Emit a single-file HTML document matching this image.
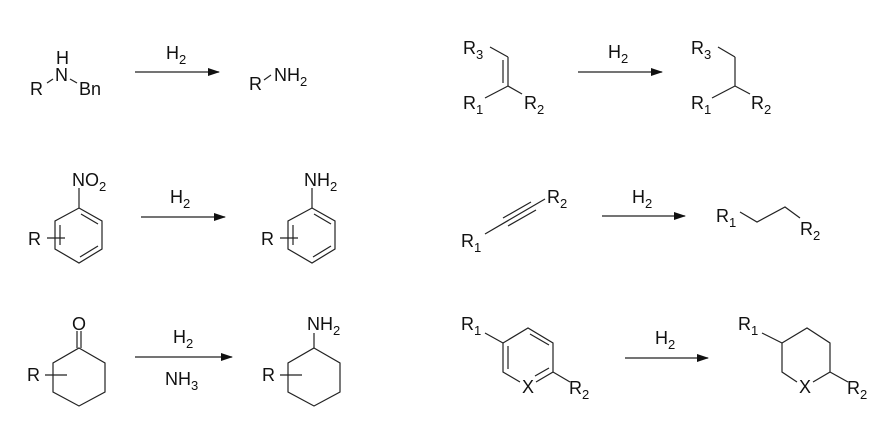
<!DOCTYPE html>
<html><head><meta charset="utf-8"><style>
html,body{margin:0;padding:0;background:#fff;}
svg{display:block;}
text{font-family:"Liberation Sans",Arial,sans-serif;font-size:18px;fill:#111;}
.s{font-size:13px;}
</style></head><body>
<svg width="893" height="438" viewBox="0 0 893 438">
<defs><marker id="a" markerWidth="12" markerHeight="8" refX="11" refY="4" orient="auto" markerUnits="userSpaceOnUse"><path d="M0,0 L12,4 L0,8 Z" fill="#111"/></marker></defs>
<g stroke="#222" stroke-width="1.2" fill="none">
<line x1="135" y1="72" x2="219" y2="72" marker-end="url(#a)"/>
<line x1="578" y1="72" x2="662" y2="72" marker-end="url(#a)"/>
<line x1="141" y1="217" x2="225" y2="217" marker-end="url(#a)"/>
<line x1="602" y1="216" x2="685" y2="216" marker-end="url(#a)"/>
<line x1="135" y1="357" x2="232" y2="357" marker-end="url(#a)"/>
<line x1="625" y1="358" x2="708" y2="358" marker-end="url(#a)"/>
<line x1="47" y1="83" x2="53" y2="79"/>
<line x1="70" y1="79" x2="77" y2="83"/>
<line x1="264" y1="80" x2="271" y2="75"/>
<line x1="490" y1="47" x2="508" y2="57"/>
<line x1="508" y1="57" x2="508" y2="86"/>
<line x1="503" y1="60" x2="503" y2="83"/>
<line x1="508" y1="86" x2="485" y2="98"/>
<line x1="508" y1="86" x2="522" y2="94"/>
<line x1="718" y1="47" x2="735" y2="57"/>
<line x1="735" y1="57" x2="735" y2="86"/>
<line x1="735" y1="86" x2="712" y2="98"/>
<line x1="735" y1="86" x2="750" y2="94"/>
<line x1="485" y1="234" x2="545" y2="199"/>
<line x1="503" y1="218" x2="531" y2="202"/>
<line x1="508" y1="226" x2="536" y2="210"/>
<polyline points="740,212 757,222 785,207 800,218"/>
<polygon points="79,208 102,221 102,249 79,263 55,249 55,221"/>
<line x1="79" y1="208" x2="79" y2="188"/>
<line x1="81" y1="214" x2="98" y2="224"/>
<line x1="98" y1="246" x2="80" y2="257"/>
<line x1="60" y1="225" x2="60" y2="245"/>
<line x1="47" y1="238" x2="65" y2="238"/>
<polygon points="312,208 335,221 335,249 312,263 288,249 288,221"/>
<line x1="312" y1="208" x2="312" y2="188"/>
<line x1="314" y1="214" x2="331" y2="224"/>
<line x1="331" y1="246" x2="313" y2="257"/>
<line x1="293" y1="225" x2="293" y2="245"/>
<line x1="280" y1="238" x2="298" y2="238"/>
<polygon points="79,348 105,363 105,392 79,406 53,392 53,363"/>
<line x1="77" y1="331" x2="77" y2="348"/>
<line x1="81" y1="331" x2="81" y2="348"/>
<line x1="45" y1="375" x2="67" y2="375"/>
<polygon points="314,348 340,363 340,392 314,406 288,392 288,363"/>
<line x1="314" y1="333" x2="314" y2="348"/>
<line x1="280" y1="375" x2="302" y2="375"/>
<polyline points="503,343 528,328 553,343 553,372 536,382"/>
<polyline points="520,382 503,372 503,343"/>
<line x1="530" y1="334" x2="549" y2="345"/>
<line x1="508" y1="346" x2="508" y2="369"/>
<line x1="535" y1="376" x2="549" y2="368"/>
<line x1="485" y1="333" x2="503" y2="343"/>
<line x1="553" y1="372" x2="570" y2="382"/>
<polyline points="782,343 807,328 830,343 830,372 813,382"/>
<polyline points="797,382 782,372 782,343"/>
<line x1="762" y1="333" x2="782" y2="343"/>
<line x1="830" y1="372" x2="848" y2="382"/>
</g>
<text x="56" y="64">H</text>
<text x="55" y="81">N</text>
<text x="30" y="95">R</text>
<text x="79" y="95">Bn</text>
<text x="166" y="59">H<tspan class="s" dy="5">2</tspan></text>
<text x="249" y="90">R</text>
<text x="274" y="81">NH<tspan class="s" dy="5">2</tspan></text>

<text x="463" y="54">R<tspan class="s" dy="5">3</tspan></text>
<text x="463" y="109">R<tspan class="s" dy="5">1</tspan></text>
<text x="524" y="109">R<tspan class="s" dy="5">2</tspan></text>
<text x="608" y="58">H<tspan class="s" dy="5">2</tspan></text>
<text x="691" y="54">R<tspan class="s" dy="5">3</tspan></text>
<text x="691" y="109">R<tspan class="s" dy="5">1</tspan></text>
<text x="751" y="109">R<tspan class="s" dy="5">2</tspan></text>

<text x="72" y="186">NO<tspan class="s" dy="5">2</tspan></text>
<text x="28" y="245">R</text>
<text x="170" y="203">H<tspan class="s" dy="5">2</tspan></text>
<text x="304" y="186">NH<tspan class="s" dy="5">2</tspan></text>
<text x="261" y="245">R</text>

<text x="547" y="203">R<tspan class="s" dy="5">2</tspan></text>
<text x="461" y="247">R<tspan class="s" dy="5">1</tspan></text>
<text x="632" y="203">H<tspan class="s" dy="5">2</tspan></text>
<text x="716" y="222">R<tspan class="s" dy="5">1</tspan></text>
<text x="800" y="235">R<tspan class="s" dy="5">2</tspan></text>

<text x="72" y="330">O</text>
<text x="27" y="381">R</text>
<text x="173" y="343">H<tspan class="s" dy="5">2</tspan></text>
<text x="165" y="385">NH<tspan class="s" dy="5">3</tspan></text>
<text x="307" y="330">NH<tspan class="s" dy="5">2</tspan></text>
<text x="262" y="381">R</text>

<text x="461" y="330">R<tspan class="s" dy="5">1</tspan></text>
<text x="522" y="393">X</text>
<text x="569" y="394">R<tspan class="s" dy="5">2</tspan></text>
<text x="655" y="344">H<tspan class="s" dy="5">2</tspan></text>
<text x="738" y="330">R<tspan class="s" dy="5">1</tspan></text>
<text x="799" y="393">X</text>
<text x="847" y="394">R<tspan class="s" dy="5">2</tspan></text>
</svg>
</body></html>
